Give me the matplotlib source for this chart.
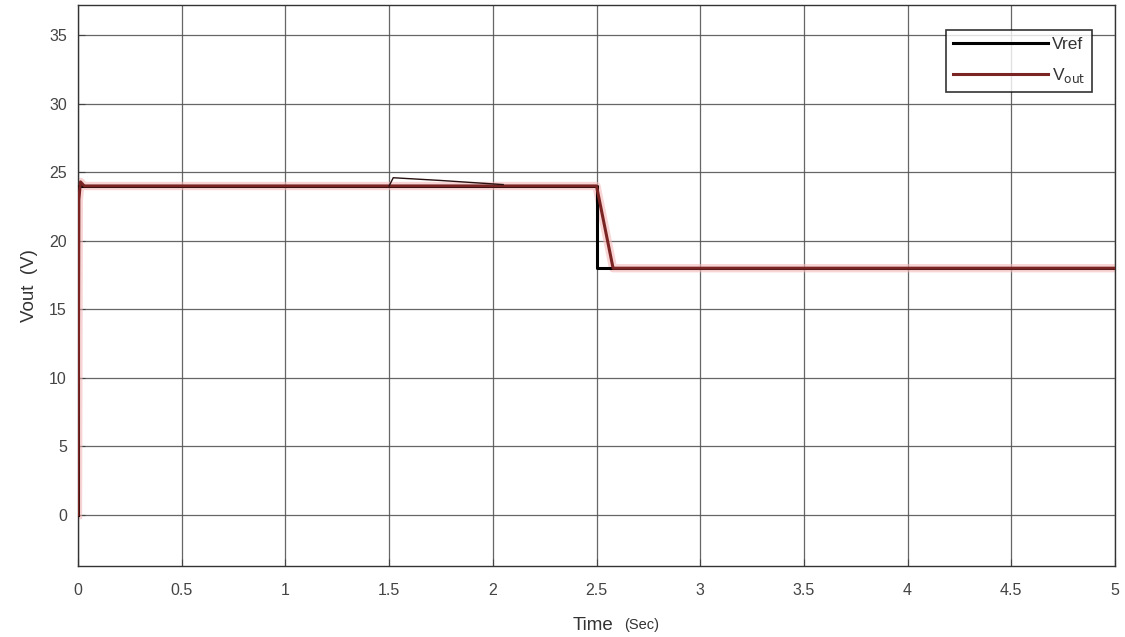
import matplotlib
matplotlib.use("Agg")
import matplotlib.pyplot as plt

# ---- data ----
vref_t = [0.0, 0.0, 2.5, 2.5, 5.0]
vref_v = [0.0, 24.0, 24.0, 18.0, 18.0]

vout_t = [0.0, 0.004, 0.012, 0.03, 1.5, 2.0, 2.5, 2.58, 3.5, 5.0]
vout_v = [0.0, 23.0, 24.3, 24.0, 24.0, 24.0, 24.0, 18.0, 18.0, 18.0]

# upper ripple envelope of Vout after the load step at 1.5 s
venv_t = [1.5, 1.52, 1.75, 2.05]
venv_v = [24.0, 24.6, 24.4, 24.1]

xticks = [0, 0.5, 1, 1.5, 2, 2.5, 3, 3.5, 4, 4.5, 5]
xticklabels = ["0", "0.5", "1", "1.5", "2", "2.5", "3", "3.5", "4", "4.5", "5"]
yticks = [0, 5, 10, 15, 20, 25, 30, 35]

plt.rcParams['font.family'] = ['Liberation Sans', 'DejaVu Sans']

fig = plt.figure(figsize=(11.25, 6.37), dpi=100)
ax = fig.add_axes([78/1125, 1-566/637, (1115-78)/1125, (566-5)/637])

red_dark = '#7b2424'
# soft glow of the red trace
ax.plot(vout_t, vout_v, color='#f4b8b8', lw=6, alpha=0.6, zorder=2)
ax.plot(vref_t, vref_v, color='black', lw=2.2, label='Vref', zorder=3)
ax.plot(vout_t, vout_v, color=red_dark, lw=2.2, label=r'V$_{\mathrm{out}}$', zorder=4)
ax.plot(venv_t, venv_v, color='#2a1010', lw=1.0, zorder=4)

ax.set_xlim(0, 5)
ax.set_ylim(-3.72, 37.2)
ax.set_xticks(xticks)
ax.set_xticklabels(xticklabels)
ax.set_yticks(yticks)
ax.grid(True, color='#555555', lw=0.9, alpha=0.9)
ax.set_axisbelow(True)
ax.tick_params(direction='in', colors='#444444', labelsize=11.5, length=5, pad=8)
ax.tick_params(axis='x', pad=12)
for s in ax.spines.values():
    s.set_color('#333333')
    s.set_linewidth(1.0)

ax.set_ylabel('Vout  (V)', fontsize=13.5, color='#333333', labelpad=8)
fig.text(0.527, 0.005, 'Time', fontsize=13.5, color='#333333', ha='center', va='bottom')
fig.text(0.555, 0.008, '(Sec)', fontsize=10.5, color='#333333', ha='left', va='bottom')

leg = ax.legend(loc='upper right', bbox_to_anchor=(0.978, 0.955), fontsize=12.5,
                frameon=True, fancybox=False, edgecolor='black', handlelength=5.5,
                handletextpad=0.2, borderpad=0.4, labelspacing=0.8, borderaxespad=0)
leg.get_frame().set_linewidth(1.2)
for t in leg.get_texts():
    t.set_color('#333333')

fig.savefig('out.png', dpi=100, facecolor='white')
